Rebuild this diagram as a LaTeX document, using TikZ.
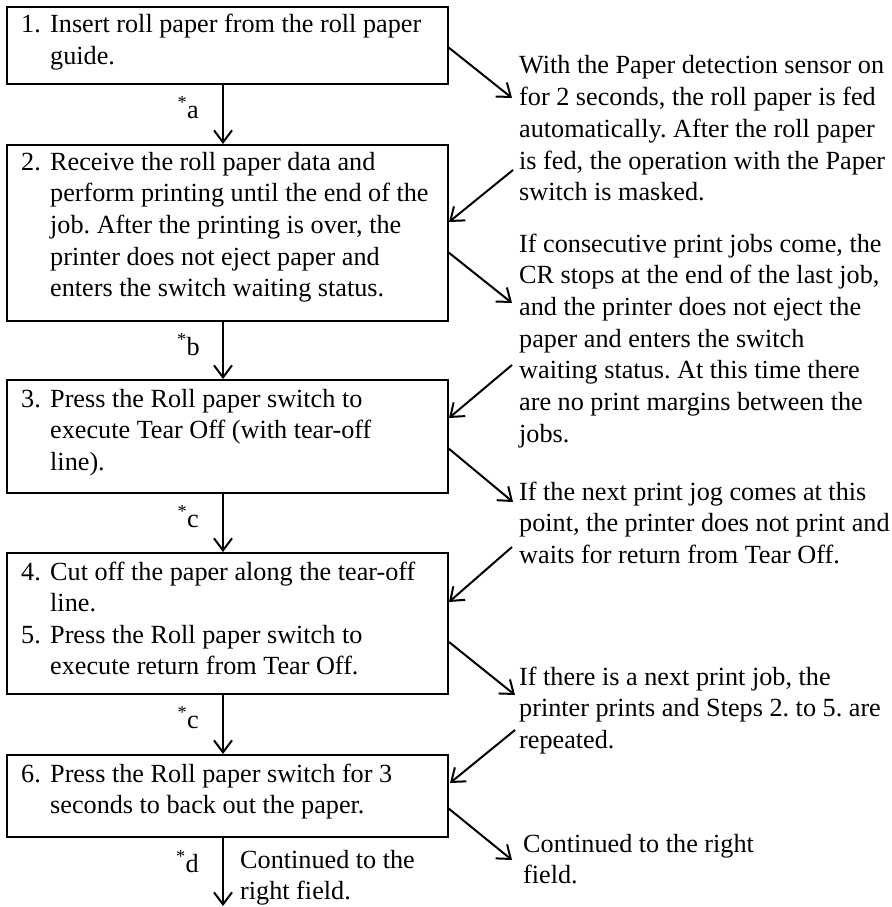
\documentclass[tikz,border=0pt]{standalone}
\usepackage{fontspec}
\setmainfont{Liberation Serif}
\usetikzlibrary{arrows.meta}
\tikzset{
  box/.style={draw, line width=2pt, inner sep=0pt, minimum width=441pt},
  txt/.style={anchor=base west, inner sep=0pt},
  lbl/.style={anchor=base east, inner sep=0pt},
  arr/.style={line width=2pt, -{Straight Barb[length=12pt,width=18pt]}}
}
\newcommand{\blk}[2]{\parbox[t]{#1}{\raggedright #2}}
\begin{document}
\frenchspacing
\fontsize{26.2pt}{31.7pt}\selectfont
\begin{tikzpicture}[x=1pt,y=-1pt]
\useasboundingbox (0,0) rectangle (891,907);
% boxes
\node[box, minimum height=77pt]  (b1) at (227.5,45.5) {};
\node[box, minimum height=176pt] (b2) at (227.5,233) {};
\node[box, minimum height=113pt] (b3) at (227.5,436.5) {};
\node[box, minimum height=141pt] (b4) at (227.5,623.5) {};
\node[box, minimum height=82pt]  (b6) at (227.5,796) {};
% box texts
\node[txt] (n1) at (21,33) {1.};
\node[txt] (s1) at (50,33) {\blk{420pt}{Insert roll paper from the roll paper\\guide.}};
\node[txt] (n2) at (21,170) {2.};
\node[txt] (s2) at (50,170) {\blk{420pt}{Receive the roll paper data and\\perform printing until the end of the\\job. After the printing is over, the\\printer does not eject paper and\\enters the switch waiting status.}};
\node[txt] (n3) at (21,407) {3.};
\node[txt] (s3) at (50,407) {\blk{420pt}{Press the Roll paper switch to\\execute Tear Off (with tear-off\\line).}};
\node[txt] (n4) at (21,580) {4.};
\node[txt] (s4) at (50,580) {\blk{420pt}{Cut off the paper along the tear-off\\line.}};
\node[txt] (n5) at (21,643) {5.};
\node[txt] (s5) at (50,643) {\blk{420pt}{Press the Roll paper switch to\\execute return from Tear Off.}};
\node[txt] (n6) at (21,782) {6.};
\node[txt] (s6) at (50,782) {\blk{420pt}{Press the Roll paper switch for 3\\seconds to back out the paper.}};
% right notes
\node[txt] (r1) at (519,74) {\blk{400pt}{With the Paper detection sensor on\\for 2 seconds, the roll paper is fed\\automatically. After the roll paper\\is fed, the operation with the Paper\\switch is masked.}};
\node[txt] (r2) at (519,252) {\blk{400pt}{If consecutive print jobs come, the\\CR stops at the end of the last job,\\and the printer does not eject the\\paper and enters the switch\\waiting status. At this time there\\are no print margins between the\\jobs.}};
\node[txt] (r3) at (519,500) {\blk{400pt}{If the next print jog comes at this\\point, the printer does not print and\\waits for return from Tear Off.}};
\node[txt] (r4) at (519,685) {\blk{400pt}{If there is a next print job, the\\printer prints and Steps 2. to 5. are\\repeated.}};
\node[txt] (r5) at (523,852) {\blk{400pt}{Continued to the right\\field.}};
\node[txt] (c6) at (240,868) {\blk{300pt}{Continued to the\\right field.}};
% labels
\node[lbl] (la) at (199,118) {\textsuperscript{*}a};
\node[lbl] (lb) at (200,355) {\textsuperscript{*}b};
\node[lbl] (lc) at (199,527) {\textsuperscript{*}c};
\node[lbl] (ld) at (199,728) {\textsuperscript{*}c};
\node[lbl] (le) at (199,872) {\textsuperscript{*}d};
% vertical arrows
\coordinate (bend) at (223,906);
\draw[arr] ([xshift=-4.5pt]b1.south) -- ([xshift=-4.5pt]b2.north);
\draw[arr] ([xshift=-4.5pt]b2.south) -- ([xshift=-4.5pt]b3.north);
\draw[arr] ([xshift=-4.5pt]b3.south) -- ([xshift=-4.5pt]b4.north);
\draw[arr] ([xshift=-4.5pt]b4.south) -- ([xshift=-4.5pt]b6.north);
\draw[arr] ([xshift=-4.5pt]b6.south) -- (bend);
% diagonal arrows
\coordinate (o1) at (448,47);  \coordinate (t1) at (512,98);
\coordinate (o2) at (513,170); \coordinate (t2) at (449,222);
\coordinate (o3) at (448,252); \coordinate (t3) at (512,303);
\coordinate (o4) at (512,365); \coordinate (t4) at (449,418);
\coordinate (o5) at (448,448); \coordinate (t5) at (513,502);
\coordinate (o6) at (512,547); \coordinate (t6) at (449,602);
\coordinate (o7) at (449,642); \coordinate (t7) at (515,695);
\coordinate (o8) at (515,730); \coordinate (t8) at (450,783);
\coordinate (o9) at (448,808); \coordinate (t9) at (512,860);
\foreach \i in {1,...,9} {\draw[arr] (o\i) -- (t\i);}
\end{tikzpicture}
\end{document}
